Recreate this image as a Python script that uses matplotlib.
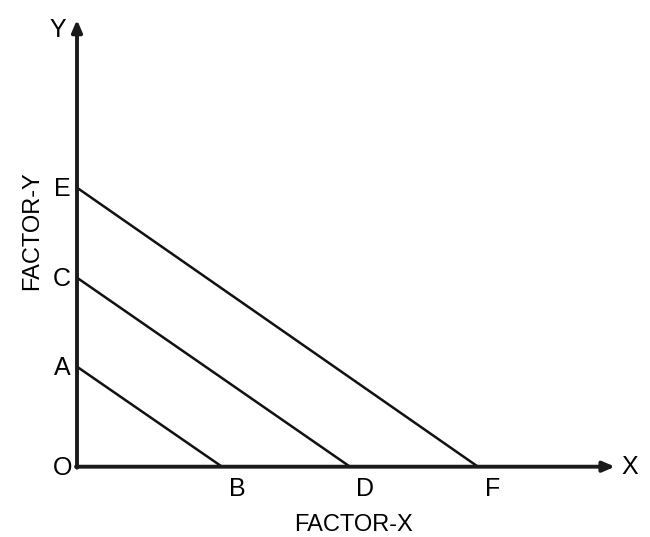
import matplotlib.pyplot as plt

# intercepts on the axes (origin O at 0,0)
y_labels = ["A", "C", "E"]
y_cuts = [100, 189, 279]
x_labels = ["B", "D", "F"]
x_cuts = [145, 273, 401]

x_end = 538
y_end = 447

plt.rcParams["font.family"] = ["Liberation Sans", "DejaVu Sans"]

fig = plt.figure(figsize=(6.5, 5.37), dpi=100)
ax = fig.add_axes([0, 0, 1, 1])
ax.set_xlim(-77, 573)
ax.set_ylim(-70.3, 466.7)
ax.axis("off")

# axes with arrows
ax.annotate("", xy=(x_end, 0), xytext=(-1, 0),
            arrowprops=dict(arrowstyle="-|>,head_length=0.7,head_width=0.3",
                            lw=2.8, color="#1a1a1a", shrinkA=0, shrinkB=0))
ax.annotate("", xy=(0, y_end), xytext=(0, -1),
            arrowprops=dict(arrowstyle="-|>,head_length=0.7,head_width=0.3",
                            lw=2.8, color="#1a1a1a", shrinkA=0, shrinkB=0))

# the three lines
for yc, xc in zip(y_cuts, x_cuts):
    ax.plot([0, xc], [yc, 0], color="#111111", lw=1.8, solid_capstyle="butt")

fs = 18
for lab, yc in zip(y_labels, y_cuts):
    ax.text(-15, yc - 1, lab, fontsize=fs, ha="center", va="center")
for lab, xc in zip(x_labels, x_cuts):
    ax.text(xc + 15, -22, lab, fontsize=fs, ha="center", va="center")

ax.text(-14, -1, "O", fontsize=fs, ha="center", va="center")
ax.text(-19, 437, "Y", fontsize=fs, ha="center", va="center")
ax.text(553, 0, "X", fontsize=fs, ha="center", va="center")
ax.text(276, -58, "FACTOR-X", fontsize=17, ha="center", va="center")
ax.text(-45, 236, "FACTOR-Y", fontsize=17, ha="center", va="center",
        rotation=90)

fig.savefig("out.png", dpi=100)
